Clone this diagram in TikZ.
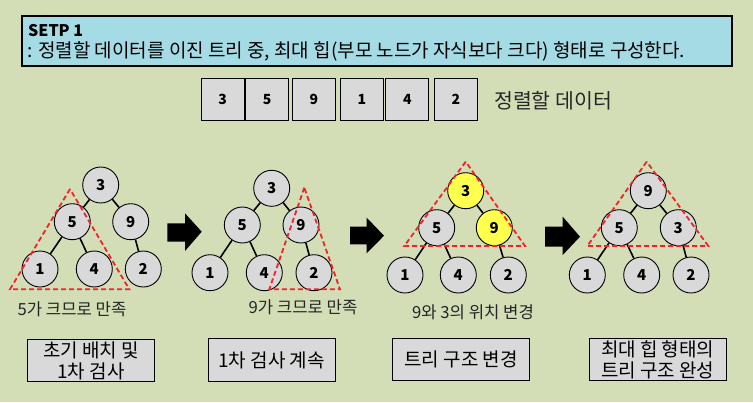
\documentclass[tikz,border=0pt]{standalone}
\usepackage{fontspec}
\setmainfont{Noto Sans CJK KR}
\definecolor{bggreen}{HTML}{D3DEB7}
\definecolor{titleblue}{HTML}{A5DBE5}
\definecolor{nodegray}{HTML}{D9D9D9}
\definecolor{hotyellow}{HTML}{FFFF4D}
\definecolor{trired}{HTML}{F0232B}
\tikzset{
  nd/.style={circle, draw=black, line width=0.9pt, fill=nodegray, minimum size=36pt, inner sep=0pt, font=\bfseries\fontsize{15}{18}\selectfont},
  hot/.style={nd, fill=hotyellow},
  edgeline/.style={line width=1.6pt, black},
  heaptri/.style={draw=trired, dash pattern=on 5pt off 3pt, line width=1.8pt},
  databox/.style={draw=black, line width=1pt, fill=nodegray, minimum width=43pt, minimum height=42pt, inner sep=0pt, font=\bfseries\fontsize{14}{16}\selectfont},
  capbox/.style={draw=black, line width=1pt, fill=nodegray, align=center, inner sep=0pt, font=\fontsize{19}{21}\selectfont},
  notetext/.style={inner sep=0pt, font=\fontsize{16.7}{19}\selectfont, text=black!85},
  blockarrow/.style={fill=black, draw=none}
}
\begin{document}
\begin{tikzpicture}[x=1pt,y=-1pt]
\fill[bggreen] (0,0) rectangle (753,402);
\useasboundingbox (0,0) rectangle (753,402);

% title box
\node[draw=black, line width=2.2pt, fill=titleblue, minimum width=710pt, minimum height=50pt, inner sep=0pt] (title) at (377,41) {};
\node[anchor=west, inner sep=0pt, font=\bfseries\fontsize{16}{18}\selectfont] (steptxt) at (28,31) {SETP 1};
\node[anchor=west, inner sep=0pt, font=\fontsize{19}{21}\selectfont] (desc) at (27,51) {: 정렬할 데이터를 이진 트리 중, 최대 힙(부모 노드가 자식보다 크다) 형태로 구성한다.};

% data boxes
\node[databox] (d1) at (222.7,99.3) {3};
\node[databox] (d2) at (267.2,99.3) {5};
\node[databox] (d3) at (314,99.3) {9};
\node[databox] (d4) at (362,99.8) {1};
\node[databox] (d5) at (407.3,99.8) {4};
\node[databox] (d6) at (455.8,99.8) {2};
\node[anchor=west, inner sep=0pt, font=\fontsize{20.5}{23}\selectfont, text=black!85] (dlabel) at (494,101) {정렬할 데이터};

% tree 1
\node[nd] (a3) at (100.7,185) {3};
\node[nd] (a5) at (72.3,221.7) {5};
\node[nd] (a9) at (130.7,221.7) {9};
\node[nd] (a1) at (40,269) {1};
\node[nd] (a4) at (94.3,269) {4};
\node[nd] (a2) at (143.3,269) {2};
\draw[edgeline] (a3) -- (a5);
\draw[edgeline] (a3) -- (a9);
\draw[edgeline] (a5) -- (a1);
\draw[edgeline] (a5) -- (a4);
\draw[edgeline] (a9) -- (a2);
\draw[heaptri] (70,189) -- (10,289.3) -- (129.3,289.3) -- cycle;
\node[notetext] (n1) at (72,309) {5가 크므로 만족};

% arrow 1
\fill[blockarrow] (167.3,223.3) -- (185,223.3) -- (185,213.3) -- (201.7,231.7) -- (185,251) -- (185,241.7) -- (167.3,241.7) -- cycle;

% tree 2
\node[nd] (b3) at (271.7,188.3) {3};
\node[nd] (b5) at (242.3,225) {5};
\node[nd] (b9) at (301,225) {9};
\node[nd] (b1) at (210,272.7) {1};
\node[nd] (b4) at (264.3,272.7) {4};
\node[nd] (b2) at (314,272.7) {2};
\draw[edgeline] (b3) -- (b5);
\draw[edgeline] (b3) -- (b9);
\draw[edgeline] (b5) -- (b1);
\draw[edgeline] (b5) -- (b4);
\draw[edgeline] (b9) -- (b2);
\draw[heaptri] (304.3,187.7) -- (269.3,289.3) -- (340,289.3) -- cycle;
\node[notetext] (n2) at (303,307) {9가 크므로 만족};

% arrow 2
\fill[blockarrow] (350,226.7) -- (366.7,226.7) -- (366.7,217.7) -- (384,235.7) -- (366.7,253.3) -- (366.7,244.3) -- (350,244.3) -- cycle;

% tree 3
\node[hot] (c3) at (465.7,190.7) {3};
\node[nd] (c5) at (436.7,227.7) {5};
\node[hot] (c9) at (494.3,227.7) {9};
\node[nd] (c1) at (405,275) {1};
\node[nd] (c4) at (458.3,275) {4};
\node[nd] (c2) at (508.3,275) {2};
\draw[edgeline] (c3) -- (c5);
\draw[edgeline] (c3) -- (c9);
\draw[edgeline] (c5) -- (c1);
\draw[edgeline] (c5) -- (c4);
\draw[edgeline] (c9) -- (c2);
\draw[heaptri] (465.7,161.7) -- (404.3,246) -- (525,246) -- cycle;
\node[notetext] (n3) at (473,312) {9와 3의 위치 변경};

% arrow 3
\fill[blockarrow] (545,226.7) -- (562.7,226.7) -- (562.7,216.7) -- (580,236.7) -- (562.7,255) -- (562.7,246.7) -- (545,246.7) -- cycle;

% tree 4
\node[nd] (e9) at (648.3,190.7) {9};
\node[nd] (e5) at (619.3,227.7) {5};
\node[nd] (e3) at (678.3,227.7) {3};
\node[nd] (e1) at (587.3,275) {1};
\node[nd] (e4) at (641.7,275) {4};
\node[nd] (e2) at (691,275) {2};
\draw[edgeline] (e9) -- (e5);
\draw[edgeline] (e9) -- (e3);
\draw[edgeline] (e5) -- (e1);
\draw[edgeline] (e5) -- (e4);
\draw[edgeline] (e3) -- (e2);
\draw[heaptri] (646.7,161.7) -- (587.3,246) -- (708.3,246) -- cycle;

% caption boxes
\node[capbox, minimum width=127pt, minimum height=42pt] (s1) at (91,360.5) {초기 배치 및\\1차 검사};
\node[capbox, minimum width=127pt, minimum height=43pt] (s2) at (271.5,360) {1차 검사 계속};
\node[capbox, minimum width=137pt, minimum height=42pt] (s3) at (461,359.5) {트리 구조 변경};
\node[capbox, minimum width=137pt, minimum height=42pt] (s4) at (657.7,359.5) {최대 힙 형태의\\트리 구조 완성};
\end{tikzpicture}
\end{document}
